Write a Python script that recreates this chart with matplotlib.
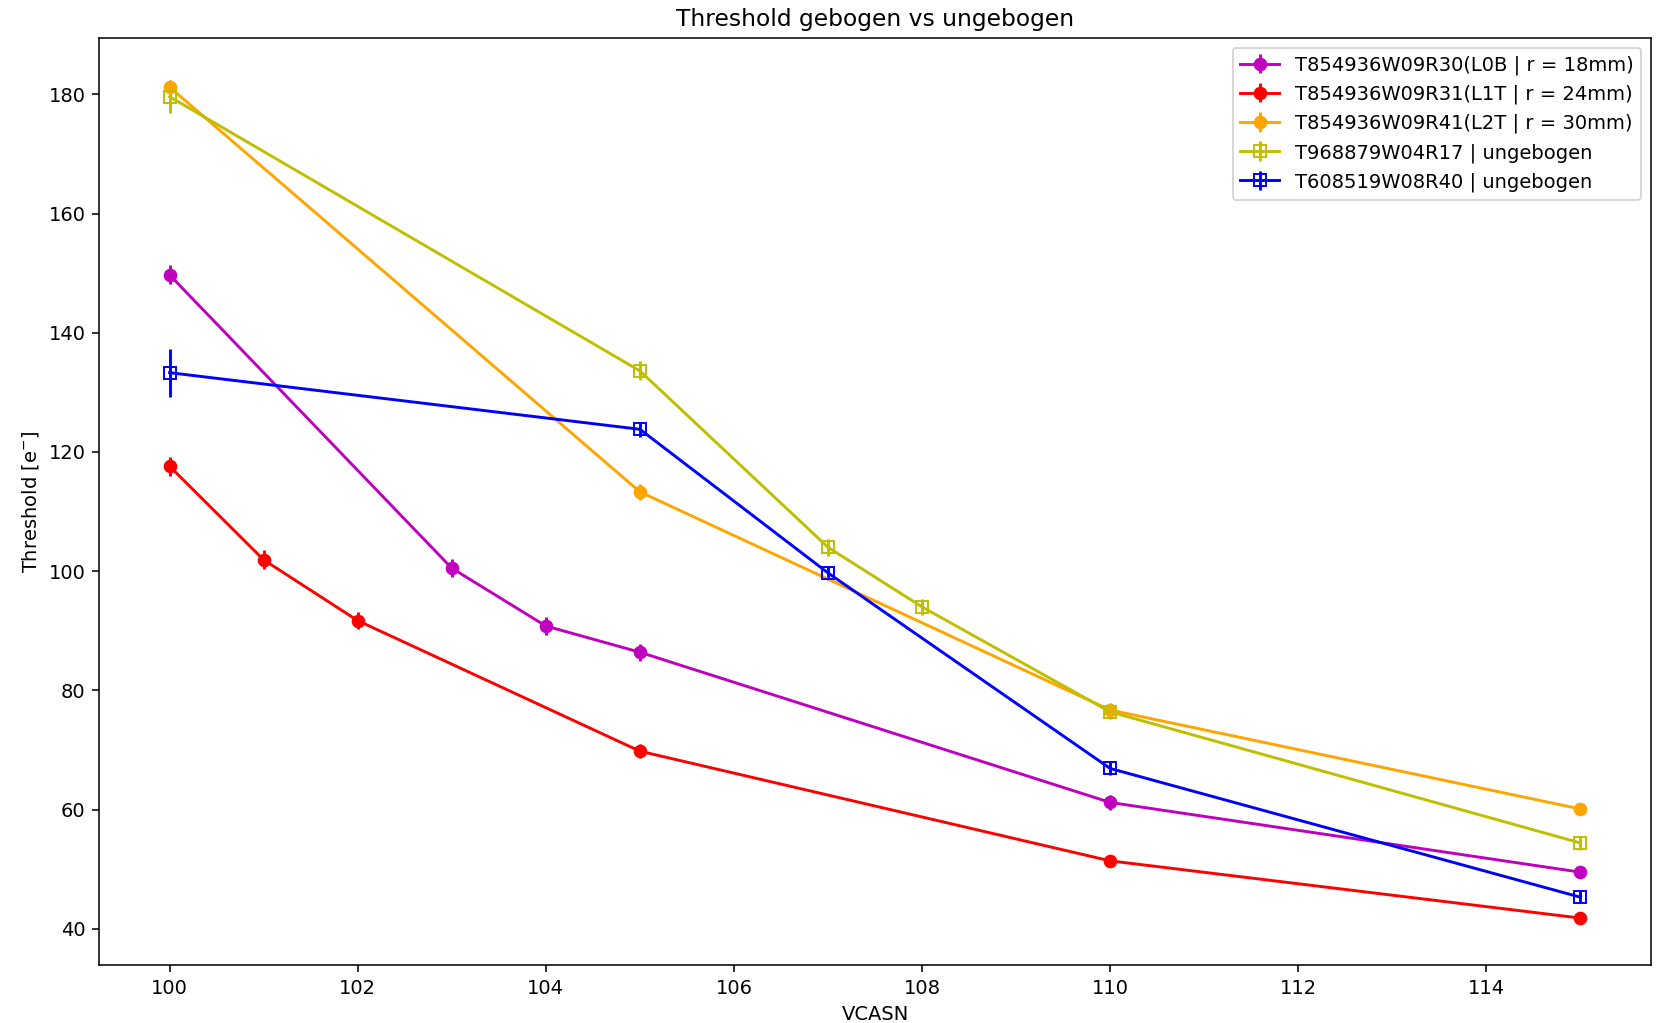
import numpy as np
import matplotlib
matplotlib.use("Agg")
import matplotlib.pyplot as plt

# VCASN scan, threshold in electrons
vcasn_r30 = [100, 103, 104, 105, 110, 115]
thr_r30 = [149.7, 100.5, 90.8, 86.4, 61.2, 49.5]
err_r30 = [1.6, 1.5, 1.5, 1.4, 1.2, 1.0]

vcasn_r31 = [100, 101, 102, 105, 110, 115]
thr_r31 = [117.6, 101.9, 91.7, 69.8, 51.4, 41.8]
err_r31 = [1.6, 1.6, 1.4, 1.2, 1.0, 0.8]

vcasn_r41 = [100, 105, 110, 115]
thr_r41 = [181.2, 113.3, 76.7, 60.1]
err_r41 = [1.2, 1.4, 1.2, 1.0]

vcasn_r17 = [100, 105, 107, 108, 110, 115]
thr_r17 = [179.6, 133.6, 104.0, 94.0, 76.4, 54.4]
err_r17 = [2.8, 1.6, 1.4, 1.4, 1.2, 1.2]

vcasn_r40 = [100, 105, 107, 110, 115]
thr_r40 = [133.3, 123.8, 99.7, 66.9, 45.3]
err_r40 = [4.0, 1.3, 1.2, 1.1, 1.0]

fig, ax = plt.subplots(figsize=(1662 / 140, 1023 / 140), dpi=140)

ax.errorbar(vcasn_r30, thr_r30, yerr=err_r30, fmt="o-", color="m",
            label="T854936W09R30(L0B | r = 18mm)")
ax.errorbar(vcasn_r31, thr_r31, yerr=err_r31, fmt="o-", color="r",
            label="T854936W09R31(L1T | r = 24mm)")
ax.errorbar(vcasn_r41, thr_r41, yerr=err_r41, fmt="o-", color="orange",
            label="T854936W09R41(L2T | r = 30mm)")
ax.errorbar(vcasn_r17, thr_r17, yerr=err_r17, fmt="s-", color="y",
            fillstyle="none", label="T968879W04R17 | ungebogen")
ax.errorbar(vcasn_r40, thr_r40, yerr=err_r40, fmt="s-", color="b",
            fillstyle="none", label="T608519W08R40 | ungebogen")

ax.set_title("Threshold gebogen vs ungebogen")
ax.set_xlabel("VCASN")
ax.set_ylabel("Threshold [e$^{-}$]")
ax.legend(loc="upper right")

fig.subplots_adjust(left=0.0596, right=0.9934, top=0.963, bottom=0.0567)
fig.savefig("out.png")
